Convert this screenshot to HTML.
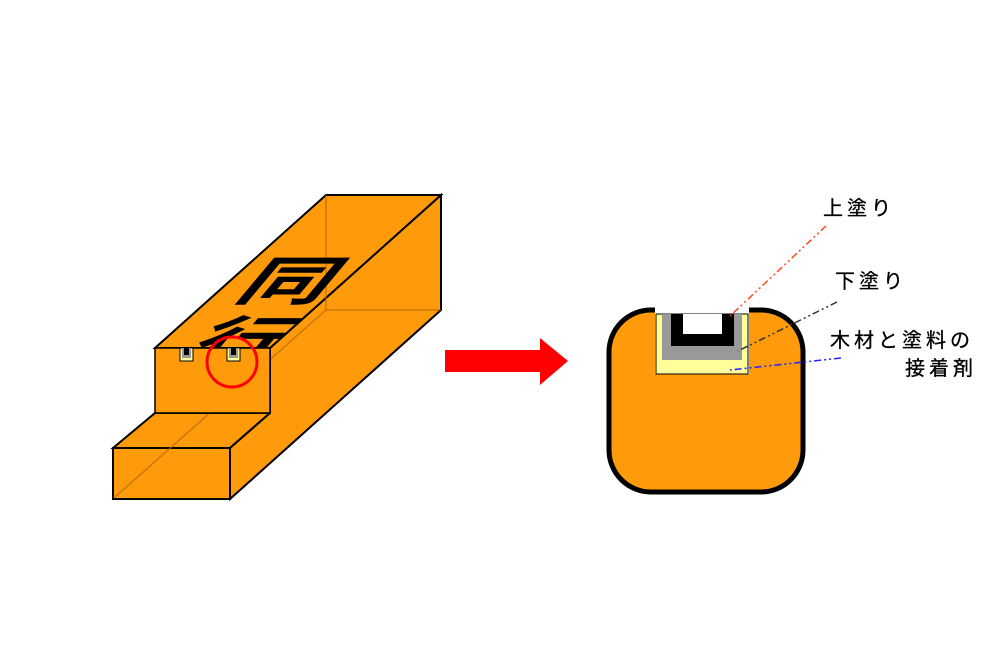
<!DOCTYPE html>
<html><head><meta charset="utf-8"><style>
html,body{margin:0;padding:0;background:#fff;}
svg{display:block}
</style></head><body>
<svg width="1000" height="667" viewBox="0 0 1000 667" xmlns="http://www.w3.org/2000/svg">
<defs><clipPath id="tc"><polygon points="155,348 270,348 441,195 326,195"/></clipPath></defs>
<polygon points="113,448 155,413 270,413 230,448" fill="#FF9B0B" stroke="#000" stroke-width="2"/>
<rect x="113" y="448" width="117" height="51" fill="#FF9B0B" stroke="#000" stroke-width="2"/>
<polygon points="270,348 441,195 441,310 230,499 230,448 270,413" fill="#FF9B0B" stroke="#000" stroke-width="2"/>
<polygon points="155,348 270,348 441,195 326,195" fill="#FF9B0B" stroke="#000" stroke-width="2"/>
<polyline points="326,195 326,310 441,310" fill="none" stroke="#B06A00" stroke-width="1.5" opacity="0.7"/>
<line x1="326" y1="310" x2="115" y2="497" stroke="#B06A00" stroke-width="1.5" opacity="0.7"/>
<g clip-path="url(#tc)" font-family="'Noto Sans CJK JP',sans-serif" font-weight="bold" fill="#000">
<text transform="translate(232,300) skewX(-40) scale(1.35,0.8)" font-size="66">同</text>
<text transform="translate(183,360) skewX(-40) scale(1.35,0.8)" font-size="66">行</text>
</g>
<rect x="155" y="348" width="115" height="65" fill="#FF9B0B" stroke="#000" stroke-width="1.5"/>
<g>
<rect x="180" y="348" width="13" height="13" fill="#FFFF99" stroke="#000" stroke-width="1"/>
<rect x="182" y="348" width="9" height="10" fill="#999"/>
<rect x="184" y="348" width="5" height="7" fill="#000"/>
<rect x="227" y="348" width="13" height="13" fill="#FFFF99" stroke="#000" stroke-width="1"/>
<rect x="229" y="348" width="9" height="10" fill="#999"/>
<rect x="231" y="348" width="5" height="7" fill="#000"/>
</g>
<circle cx="232" cy="362" r="25" fill="none" stroke="#FF0000" stroke-width="3"/>
<polygon points="445,350 540,350 540,338 568,361 540,385 540,372 445,372" fill="#FF0000"/>
<rect x="609" y="310" width="194" height="182" rx="42" ry="42" fill="#FF9B0B" stroke="#000" stroke-width="5"/>
<rect x="655" y="306" width="94" height="68" fill="#fff"/>
<rect x="656" y="314" width="92" height="60" fill="#FFFF99" stroke="#000" stroke-width="1"/>
<rect x="662" y="314" width="80" height="46" fill="#999"/>
<rect x="671" y="314" width="63" height="32" fill="#000"/>
<rect x="683" y="314" width="39" height="20" fill="#fff"/>
<line x1="826" y1="226" x2="730" y2="316" stroke="#FF4A1A" stroke-width="1.5" stroke-dasharray="7,3,2,3,2,3"/>
<line x1="837" y1="302" x2="738" y2="351" stroke="#333" stroke-width="1.5" stroke-dasharray="7,3,2,3,2,3"/>
<line x1="841" y1="358" x2="730" y2="370" stroke="#2222FF" stroke-width="1.5" stroke-dasharray="7,3,2,3,2,3"/>
<g font-family="'Liberation Sans','Noto Sans CJK JP',sans-serif" font-size="20" fill="#000" stroke="#000" stroke-width="0.3" letter-spacing="4">
<text x="823" y="215">上塗り</text>
<text x="835" y="288">下塗り</text>
<text x="830" y="347">木材と塗料の</text>
<text x="905" y="375">接着剤</text>
</g>
</svg>
</body></html>
